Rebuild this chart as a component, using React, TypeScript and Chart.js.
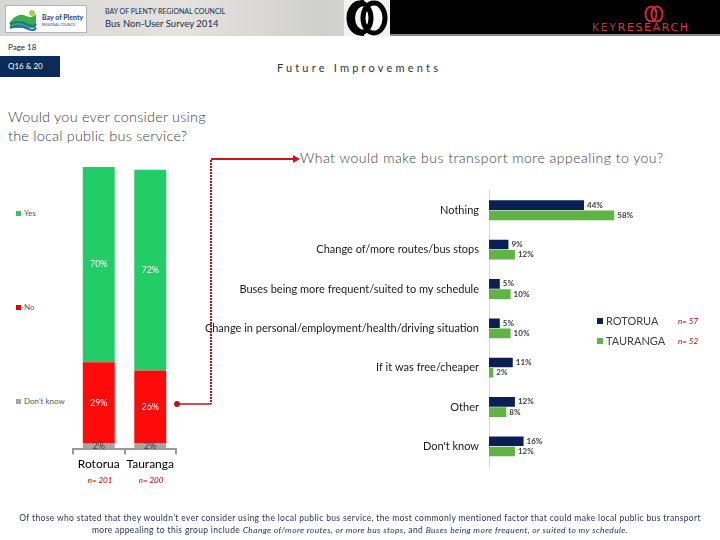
import React, { useEffect, useRef } from "react";
import { Chart, registerables } from "chart.js";

Chart.register(...registerables);

// ---- Data ----
const leftCategories = ["Rotorua", "Tauranga"];
const leftSampleSizes = ["n= 201", "n= 200"];
const yesValues = [70, 72];
const noValues = [29, 26];
const dontKnowValues = [2, 2];
const leftLegend = ["Yes", "No", "Don't know"];

const rightCategories = [
  "Nothing",
  "Change of/more routes/bus stops",
  "Buses being more frequent/suited to my schedule",
  "Change in personal/employment/health/driving situation",
  "If it was free/cheaper",
  "Other",
  "Don't know",
];
const rotoruaValues = [44, 9, 5, 5, 11, 12, 16];
const taurangaValues = [58, 12, 10, 10, 2, 8, 12];
const rightSeries = ["ROTORUA", "TAURANGA"];
const rightSampleSizes = ["n= 57", "n= 52"];

const FONT = "Lato, 'Open Sans', sans-serif";
const GREEN = "#22cc66";
const RED = "#ff0a0a";
const GREY = "#a5a5a5";
const NAVY = "#0c1f55";
const LGREEN = "#62b346";

const leftLabelPlugin = {
  id: "leftLabels",
  afterDatasetsDraw(chart: any) {
    const ctx = chart.ctx;
    ctx.save();
    ctx.font = `9px ${FONT}`;
    ctx.textAlign = "center";
    ctx.textBaseline = "middle";
    chart.data.datasets.forEach((ds: any, di: number) => {
      const meta = chart.getDatasetMeta(di);
      meta.data.forEach((el: any, i: number) => {
        const v = ds.data[i];
        const yc = (el.y + el.base) / 2;
        ctx.fillStyle = ds.label === leftLegend[2] ? "#404040" : "#ffffff";
        ctx.fillText(`${v}%`, el.x, yc);
      });
    });
    ctx.restore();
  },
};

const rightLabelPlugin = {
  id: "rightLabels",
  afterDatasetsDraw(chart: any) {
    const ctx = chart.ctx;
    ctx.save();
    ctx.font = `bold 8px ${FONT}`;
    ctx.textAlign = "left";
    ctx.textBaseline = "middle";
    ctx.fillStyle = "#404040";
    chart.data.datasets.forEach((ds: any, di: number) => {
      const meta = chart.getDatasetMeta(di);
      meta.data.forEach((el: any, i: number) => {
        ctx.fillText(`${ds.data[i]}%`, el.x + 3, el.y);
      });
    });
    ctx.restore();
  },
};

function LeftChart() {
  const ref = useRef<HTMLCanvasElement>(null);
  useEffect(() => {
    const chart = new Chart(ref.current!, {
      type: "bar",
      data: {
        labels: leftCategories,
        datasets: [
          { label: leftLegend[2], data: dontKnowValues, backgroundColor: GREY, borderWidth: 0 },
          { label: leftLegend[1], data: noValues, backgroundColor: RED, borderWidth: 0 },
          { label: leftLegend[0], data: yesValues, backgroundColor: GREEN, borderWidth: 0 },
        ].map((d) => ({ ...d, stack: "s", barPercentage: 0.62, categoryPercentage: 1 })) as any,
      },
      options: {
        responsive: false,
        animation: false,
        layout: { padding: { left: 13, right: 14, top: 7, bottom: 0 } },
        plugins: { legend: { display: false }, tooltip: { enabled: false } },
        scales: {
          x: {
            stacked: true,
            grid: { display: true, drawOnChartArea: false, drawTicks: true, tickLength: 6, color: "#999999", offset: true, lineWidth: 2 },
            border: { display: true, color: "#999999", width: 2 },
            ticks: { color: "#000000", font: { family: FONT, size: 12 }, padding: 2, maxRotation: 0, minRotation: 0, autoSkip: false },
          },
          y: { stacked: true, display: false, min: 0, max: 101 },
        },
      },
      plugins: [leftLabelPlugin],
    });
    return () => chart.destroy();
  }, []);
  return <canvas ref={ref} width={130} height={313} style={{ position: "absolute", left: 60, top: 160 }} />;
}

function RightChart() {
  const ref = useRef<HTMLCanvasElement>(null);
  useEffect(() => {
    const chart = new Chart(ref.current!, {
      type: "bar",
      data: {
        labels: rightCategories,
        datasets: [
          { label: rightSeries[0], data: rotoruaValues, backgroundColor: NAVY, borderWidth: 0, categoryPercentage: 0.52, barPercentage: 0.94 },
          { label: rightSeries[1], data: taurangaValues, backgroundColor: LGREEN, borderWidth: 0, categoryPercentage: 0.52, barPercentage: 0.94 },
        ] as any,
      },
      options: {
        indexAxis: "y",
        responsive: false,
        animation: false,
        layout: { padding: { left: 0, right: 15, top: 4, bottom: 10 } },
        plugins: { legend: { display: false }, tooltip: { enabled: false } },
        scales: {
          x: { display: false, min: 0, max: 100 },
          y: {
            grid: { display: false },
            border: { display: true, color: "#d9d9d9", width: 1 },
            ticks: { color: "#1a1a1a", font: { family: FONT, size: 11 }, padding: 2 },
            afterFit: (s: any) => {
              s.width = 339;
            },
          },
        },
      },
      plugins: [rightLabelPlugin],
    });
    return () => chart.destroy();
  }, []);
  return <canvas ref={ref} width={570} height={294} style={{ position: "absolute", left: 150, top: 182 }} />;
}

const abs = (left: number, top: number, extra: any = {}) => ({ position: "absolute" as const, left, top, ...extra });

export default function App() {
  return (
    <div
      style={{
        position: "fixed",
        left: 0,
        top: 0,
        width: 720,
        height: 540,
        background: "#ffffff",
        overflow: "hidden",
        fontFamily: FONT,
      }}
    >
      {/* Header */}
      <div style={abs(0, 0, { width: 720, height: 36, background: "linear-gradient(90deg,#d6d6d4 0%,#e4e3df 25%,#cfcfcc 45%,#d6d6d4 50%)" })} />
      <div style={abs(386, 0, { width: 334, height: 34, background: "#000" })} />
      <div style={abs(386, 34, { width: 334, height: 2, background: "#8a8a8a" })} />
      <div style={abs(5, 5, { width: 82, height: 28, background: "#fff", border: "1px solid #b5b5b5", boxSizing: "border-box" })}>
        <svg width={80} height={26} style={{ position: "absolute", left: 0, top: 0 }}>
          <path d="M4 16 Q12 6 20 10 Q26 13 30 8 L30 22 L4 22 Z" fill="#3fae49" />
          <path d="M4 18 Q12 14 20 18 T30 18" stroke="#1c6fb5" strokeWidth={2} fill="none" />
          <path d="M4 22 Q12 18 20 22 T30 22" stroke="#1c6fb5" strokeWidth={2} fill="none" />
          <circle cx={26} cy={7} r={3} fill="#9bd35a" />
        </svg>
        <div style={abs(36, 7, { fontSize: 7, fontWeight: 700, color: "#1b3f7a", whiteSpace: "nowrap" })}>Bay of Plenty</div>
        <div style={abs(36, 17, { fontSize: 3.5, color: "#1b3f7a", whiteSpace: "nowrap" })}>REGIONAL COUNCIL</div>
      </div>
      <div style={abs(105, 7, { fontSize: 7, color: "#1b2a4a", whiteSpace: "nowrap", lineHeight: "9px" })}>BAY OF PLENTY REGIONAL COUNCIL</div>
      <div style={abs(105, 18, { fontSize: 9.5, color: "#1b2a4a", whiteSpace: "nowrap", lineHeight: "12px" })}>Bus Non-User Survey 2014</div>
      <svg width={60} height={36} style={{ position: "absolute", left: 340, top: 0 }}>
        <rect x={4} y={0} width={46} height={36} fill="#f2f2f0" />
        <ellipse cx={34} cy={18} rx={11} ry={15} fill="#ffffff" stroke="#000" strokeWidth={5} />
        <path d="M24 3 A12 15 0 0 0 24 33" stroke="#000" strokeWidth={6} fill="none" />
        <ellipse cx={20} cy={18} rx={11} ry={15} fill="none" stroke="#000" strokeWidth={5} />
      </svg>
      <svg width={26} height={20} style={{ position: "absolute", left: 641, top: 4 }}>
        <ellipse cx={10} cy={10} rx={5.5} ry={7.5} fill="none" stroke="#d8262e" strokeWidth={2} />
        <ellipse cx={16} cy={10} rx={5.5} ry={7.5} fill="none" stroke="#d8262e" strokeWidth={2} />
      </svg>
      <div style={abs(592, 21, { fontSize: 11, letterSpacing: 1.6, whiteSpace: "nowrap", lineHeight: "14px", fontFamily: "'DejaVu Sans', sans-serif" })}>
        <span style={{ color: "#a83a40" }}>KEY</span>
        <span style={{ color: "#e8313a" }}>RESEARCH</span>
      </div>

      {/* Page label / section */}
      <div style={abs(8, 41, { fontSize: 8, color: "#222", lineHeight: "12px" })}>Page 18</div>
      <div style={abs(0, 56, { width: 60, height: 21, background: "#0b2b59" })}>
        <div style={abs(8, 4, { fontSize: 8, color: "#fff", lineHeight: "13px", whiteSpace: "nowrap" })}>Q16 &amp; 20</div>
      </div>
      <div style={abs(230, 61, { width: 258, textAlign: "center", fontSize: 11, letterSpacing: 3.2, color: "#333", lineHeight: "14px", whiteSpace: "nowrap" })}>
        Future Improvements
      </div>

      {/* Questions */}
      <div style={abs(8, 107, { fontSize: 14.5, color: "#404040", lineHeight: "19px", fontWeight: 300, letterSpacing: 0.2 })}>
        Would you ever consider using
        <br />
        the local public bus service?
      </div>
      <div style={abs(300, 149, { fontSize: 14, color: "#404040", lineHeight: "17px", whiteSpace: "nowrap", fontWeight: 300, letterSpacing: 0.5 })}>
        What would make bus transport more appealing to you?
      </div>

      {/* Left legend */}
      {leftLegend.map((t, i) => (
        <div key={t} style={abs(16, 208 + i * 94, { fontSize: 8, color: "#595959", lineHeight: "10px", whiteSpace: "nowrap" })}>
          <span style={{ display: "inline-block", width: 5, height: 5, background: [GREEN, "#e00000", GREY][i], marginRight: 3, verticalAlign: "middle" }} />
          {t}
        </div>
      ))}

      <LeftChart />
      <RightChart />

      {/* sample sizes left */}
      {leftSampleSizes.map((t, i) => (
        <div key={t} style={abs(80 + i * 51, 475, { width: 40, textAlign: "center", fontSize: 8, fontStyle: "italic", color: "#c00000", lineHeight: "10px" })}>
          {t}
        </div>
      ))}

      {/* Right legend */}
      {rightSeries.map((t, i) => (
        <div key={t} style={abs(597, 314 + i * 20, { fontSize: 11, color: "#404040", lineHeight: "14px", whiteSpace: "nowrap" })}>
          <span style={{ display: "inline-block", width: 6, height: 6, background: [NAVY, LGREEN][i], marginRight: 3, verticalAlign: "middle", position: "relative", top: -1 }} />
          {t}
        </div>
      ))}
      {rightSampleSizes.map((t, i) => (
        <div key={t} style={abs(678, 316 + i * 20, { fontSize: 8, fontStyle: "italic", color: "#c00000", lineHeight: "10px", whiteSpace: "nowrap" })}>
          {t}
        </div>
      ))}

      {/* Connectors */}
      <svg width={720} height={540} style={{ position: "absolute", left: 0, top: 0, pointerEvents: "none" }}>
        <line x1={211} y1={159} x2={294} y2={159} stroke="#d0141c" strokeWidth={2} />
        <polygon points="293,155 300,159 293,163" fill="#d0141c" />
        <line x1={211} y1={160} x2={211} y2={404} stroke="#b3141c" strokeWidth={2} strokeDasharray="2 1" />
        <line x1={211} y1={404} x2={178} y2={404} stroke="#c0141c" strokeWidth={1.5} />
        <circle cx={177} cy={404} r={3} fill="#c0141c" />
      </svg>

      {/* Footer */}
      <div style={abs(0, 512, { width: 720, textAlign: "center", fontSize: 8.5, letterSpacing: 0.35, color: "#1f2f55", lineHeight: "12px", whiteSpace: "nowrap" })}>
        Of those who stated that they wouldn’t ever consider using the local public bus service, the most commonly mentioned factor that could make local public bus transport
        <br />
        more appealing to this group include <i>Change of/more routes, or more bus stops</i>, and <i>Buses being more frequent, or suited to my schedule.</i>
      </div>
    </div>
  );
}
